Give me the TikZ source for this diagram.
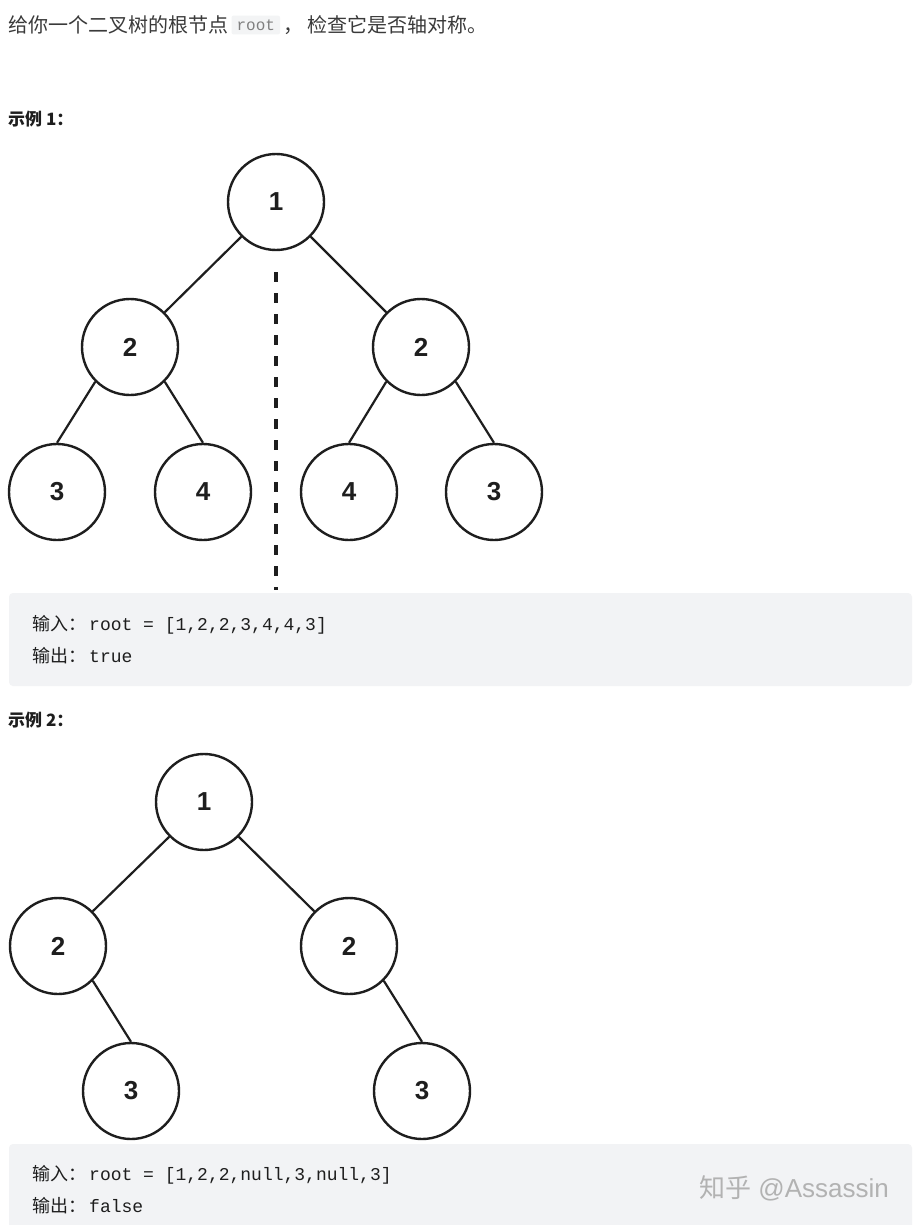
\documentclass[tikz,border=0pt]{standalone}
\usepackage{fontspec}
\setmainfont{Liberation Sans}
\setmonofont{Liberation Mono}
\newfontfamily\cjk{Noto Sans CJK SC}
\usetikzlibrary{positioning}
\definecolor{ink}{HTML}{1E1E1E}
\definecolor{txt}{HTML}{3A3A3A}
\definecolor{codebg}{HTML}{F2F3F5}
\definecolor{inlinebg}{HTML}{F3F4F5}

\begin{document}
\begin{tikzpicture}[
  x=1pt, y=-1pt,
  tnode/.style={circle, draw=ink, line width=2.4pt, minimum size=96pt, inner sep=0pt, text=ink, font=\fontsize{26}{26}\selectfont\bfseries},
  edge/.style={draw=ink, line width=2.2pt},
  axis/.style={draw=ink, line width=4pt, dash pattern=on 10pt off 11pt},
  plain/.style={inner sep=0pt, anchor=west, text=txt, font=\fontsize{20}{22}\selectfont\cjk},
  heading/.style={inner sep=0pt, anchor=west, text=ink, font=\fontsize{17}{20}\selectfont\cjk\bfseries},
  codebox/.style={rectangle, fill=codebg, rounded corners=4pt, minimum width=903pt, inner sep=0pt},
  codetxt/.style={inner sep=0pt, anchor=west, text=ink, font=\fontsize{18}{20}\selectfont\ttfamily}
]
\fill[white] (0,0) rectangle (918,1225);
\useasboundingbox (0,0) rectangle (918,1225);

% question text
\node[plain] (q1) at (8,25) {给你一个二叉树的根节点};
\node[right=3pt of q1, fill=inlinebg, rounded corners=2pt, inner xsep=5pt, inner ysep=4pt, text=gray, font=\fontsize{16}{18}\selectfont\ttfamily] (qroot) {root};
\node[plain, right=3pt of qroot] (q2) {， 检查它是否轴对称。};

% example 1
\node[heading] (ex1) at (8,119) {示例 1：};

\node[tnode] (a1) at (276,202) {1};
\node[tnode] (a2) at (130,347) {2};
\node[tnode] (a3) at (421,347) {2};
\node[tnode] (a4) at (57,492) {3};
\node[tnode] (a5) at (203,492) {4};
\node[tnode] (a6) at (349,492) {4};
\node[tnode] (a7) at (494,492) {3};

\draw[edge] (a1.-135) -- (a2.45);
\draw[edge] (a1.-45) -- (a3.135);
\draw[edge] (a2.-135) -- (a4.north);
\draw[edge] (a2.-45) -- (a5.north);
\draw[edge] (a3.-135) -- (a6.north);
\draw[edge] (a3.-45) -- (a7.north);

\coordinate (axtop) at (276,272);
\coordinate (axbot) at (276,590);
\draw[axis] (axtop) -- (axbot);

\node[codebox, minimum height=93pt] (box1) at (460.5,639.5) {};
\node[codetxt] (in1) at (32,625) {{\cjk\fontsize{18}{20}\selectfont 输入：}\hspace{3pt}root = [1,2,2,3,4,4,3]};
\node[codetxt] (out1) at (32,656) {{\cjk\fontsize{18}{20}\selectfont 输出：}\hspace{3pt}true};

% example 2
\node[heading] (ex2) at (8,720) {示例 2：};

\node[tnode] (b1) at (204,802) {1};
\node[tnode] (b2) at (58,946) {2};
\node[tnode] (b3) at (349,946) {2};
\node[tnode] (b4) at (131,1091) {3};
\node[tnode] (b5) at (422,1091) {3};

\draw[edge] (b1.-135) -- (b2.45);
\draw[edge] (b1.-45) -- (b3.135);
\draw[edge] (b2.-45) -- (b4.north);
\draw[edge] (b3.-45) -- (b5.north);

\node[codebox, minimum height=92pt] (box2) at (460.5,1190) {};
\node[codetxt] (in2) at (32,1175) {{\cjk\fontsize{18}{20}\selectfont 输入：}\hspace{3pt}root = [1,2,2,null,3,null,3]};
\node[codetxt] (out2) at (32,1206) {{\cjk\fontsize{18}{20}\selectfont 输出：}\hspace{3pt}false};

% watermark
\node[inner sep=0pt, text=gray!60, font=\fontsize{26}{28}\selectfont] (mark) at (794,1188) {{\cjk 知乎} @Assassin};
\end{tikzpicture}
\end{document}
